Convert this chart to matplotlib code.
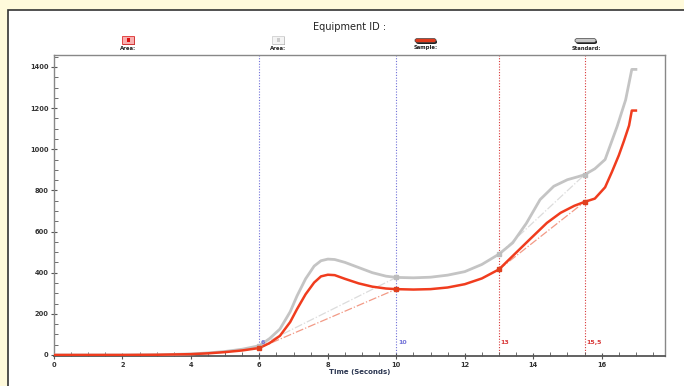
import numpy as np
import matplotlib.pyplot as plt
from matplotlib.patches import Rectangle, FancyBboxPatch
from matplotlib.ticker import MultipleLocator

# data
t_sample = [0, 1, 2, 3, 4, 4.5, 5, 5.5, 6, 6.3, 6.6, 6.9, 7.1, 7.35, 7.6, 7.8, 8.0, 8.2,
            8.5, 8.9, 9.3, 9.7, 10, 10.5, 11, 11.5, 12, 12.5, 13, 13.4, 13.9, 14.4, 14.8,
            15.2, 15.5, 15.8, 16.1, 16.3, 16.5, 16.65, 16.8, 16.88, 17.0]
v_sample = [0, 0, 0, 1, 4, 8, 14, 22, 34, 58, 93, 160, 223, 295, 352, 382, 390, 388,
            370, 348, 332, 323, 320, 318, 320, 328, 344, 372, 416, 481, 562, 642, 691,
            725, 744, 760, 815, 890, 970, 1040, 1115, 1188, 1188]

t_standard = [0, 1, 2, 3, 4, 4.5, 5, 5.5, 6, 6.3, 6.6, 6.9, 7.1, 7.35, 7.6, 7.8, 8.0, 8.2,
              8.5, 8.9, 9.3, 9.7, 10, 10.5, 11, 11.5, 12, 12.5, 13, 13.4, 13.8, 14.2, 14.6,
              15.0, 15.3, 15.5, 15.8, 16.1, 16.45, 16.7, 16.88, 17.0]
v_standard = [0, 0, 0, 1, 5, 10, 17, 28, 45, 80, 126, 210, 287, 370, 432, 458, 466, 464,
              450, 425, 400, 383, 377, 375, 378, 388, 405, 440, 490, 545, 640, 755, 820,
              852, 866, 876, 905, 950, 1110, 1240, 1388, 1388]

# area limits and baseline points
blue_marks = [6, 10]
red_marks = [13, 15.5]
mark_labels = ["6", "10", "13", "15,5"]
sample_pts = [34, 320, 416, 744]
standard_pts = [45, 377, 490, 876]

RED = "#f03c1e"
GRAY = "#c4c4c4"

fig = plt.figure(figsize=(6.84, 3.86), dpi=100)
fig.patch.set_facecolor("#fffadb")

# white panel
fig.add_artist(Rectangle((8 / 684, -0.05), 1.0, 1 - 10 / 386 + 0.05, transform=fig.transFigure,
                         facecolor="white", edgecolor="#333333", linewidth=1.2, zorder=-5))

ax = fig.add_axes([54 / 684, 30 / 386, 611 / 684, 301 / 386])
ax.set_xlim(0, 17.85)
ax.set_ylim(-5, 1458)

marks = blue_marks + red_marks
for i, m in enumerate(marks):
    c = "#7070d8" if m in blue_marks else "#d83838"
    ax.axvline(m, color=c, linestyle=(0, (1, 1.5)), linewidth=0.8, zorder=1)
    ax.text(m + 0.05, 55, mark_labels[i], color=c, fontsize=4.5, fontweight="bold", zorder=10)

# baselines between area limits
for a, b in [(0, 1), (2, 3)]:
    ax.plot([marks[a], marks[b]], [standard_pts[a], standard_pts[b]], color="#dcdcdc",
            linestyle="-.", linewidth=0.9, zorder=2)
    ax.plot([marks[a], marks[b]], [sample_pts[a], sample_pts[b]], color="#f29a86",
            linestyle="-.", linewidth=0.9, zorder=2)

ax.plot(t_standard, v_standard, color=GRAY, linewidth=2.0, zorder=3, solid_joinstyle="round")
ax.plot(t_sample, v_sample, color=RED, linewidth=1.8, zorder=4, solid_joinstyle="round")
ax.plot(marks, standard_pts, "s", color="#bdbdbd", markersize=3, zorder=5)
ax.plot(marks, sample_pts, "s", color="#e0401e", markersize=3, zorder=6)

ax.xaxis.set_major_locator(MultipleLocator(2))
ax.xaxis.set_minor_locator(MultipleLocator(0.5))
ax.yaxis.set_major_locator(MultipleLocator(200))
ax.yaxis.set_minor_locator(MultipleLocator(50))
ax.tick_params(which="major", direction="inout", length=5, width=0.8, color="#555555",
               labelsize=4.8, labelcolor="#333333", pad=1.5)
ax.tick_params(which="minor", direction="in", length=3, width=0.6, color="#555555")
for lab in ax.get_xticklabels() + ax.get_yticklabels():
    lab.set_fontweight("bold")
for s in ax.spines.values():
    s.set_color("#888888")
    s.set_linewidth(1.0)
ax.spines["bottom"].set_color("#555555")
ax.spines["bottom"].set_linewidth(1.3)
ax.set_xlabel("Time (Seconds)", fontsize=5, fontweight="bold", color="#2a3550", labelpad=1)

fig.text(350 / 684, 1 - 27 / 386, "Equipment ID :", ha="center", va="center", fontsize=7,
         color="#222222")

# legend row
legend_x = [128, 278, 426, 586]
legend_labels = ["Area:", "Area:", "Sample:", "Standard:"]
W, H = 684.0, 386.0
for i, (x, lab) in enumerate(zip(legend_x, legend_labels)):
    fig.text(x / W, 1 - 48 / H, lab, ha="center", va="center", fontsize=3.8,
             fontweight="bold", color="#222222")
    if i < 2:
        fc = "#f8b0b0" if i == 0 else "#f4f4f4"
        ec = "#e03030" if i == 0 else "#d0d0d0"
        fig.add_artist(Rectangle(((x - 5) / W, 1 - 45 / H), 12 / W, 8 / H,
                                 transform=fig.transFigure, facecolor="#333333", edgecolor="none"))
        fig.add_artist(Rectangle(((x - 6) / W, 1 - 44 / H), 12 / W, 8 / H,
                                 transform=fig.transFigure, facecolor=fc, edgecolor=ec, linewidth=0.6))
        fig.add_artist(Rectangle(((x - 1.5) / W, 1 - 41.5 / H), 3 / W, 3 / H,
                                 transform=fig.transFigure,
                                 facecolor="#dd1010" if i == 0 else "#cccccc", edgecolor="none"))
    else:
        fc = "#e03a1c" if i == 2 else "#c8c8c8"
        fig.add_artist(FancyBboxPatch(((x - 10) / W, 1 - 44 / H), 21 / W, 4 / H,
                                      boxstyle="round,pad=0,rounding_size=0.004",
                                      transform=fig.transFigure, facecolor="#222222", edgecolor="none"))
        fig.add_artist(FancyBboxPatch(((x - 11) / W, 1 - 42.5 / H), 21 / W, 4 / H,
                                      boxstyle="round,pad=0,rounding_size=0.004",
                                      transform=fig.transFigure, facecolor=fc, edgecolor="#444444",
                                      linewidth=0.5))

fig.savefig("out.png", dpi=100, facecolor=fig.get_facecolor())
